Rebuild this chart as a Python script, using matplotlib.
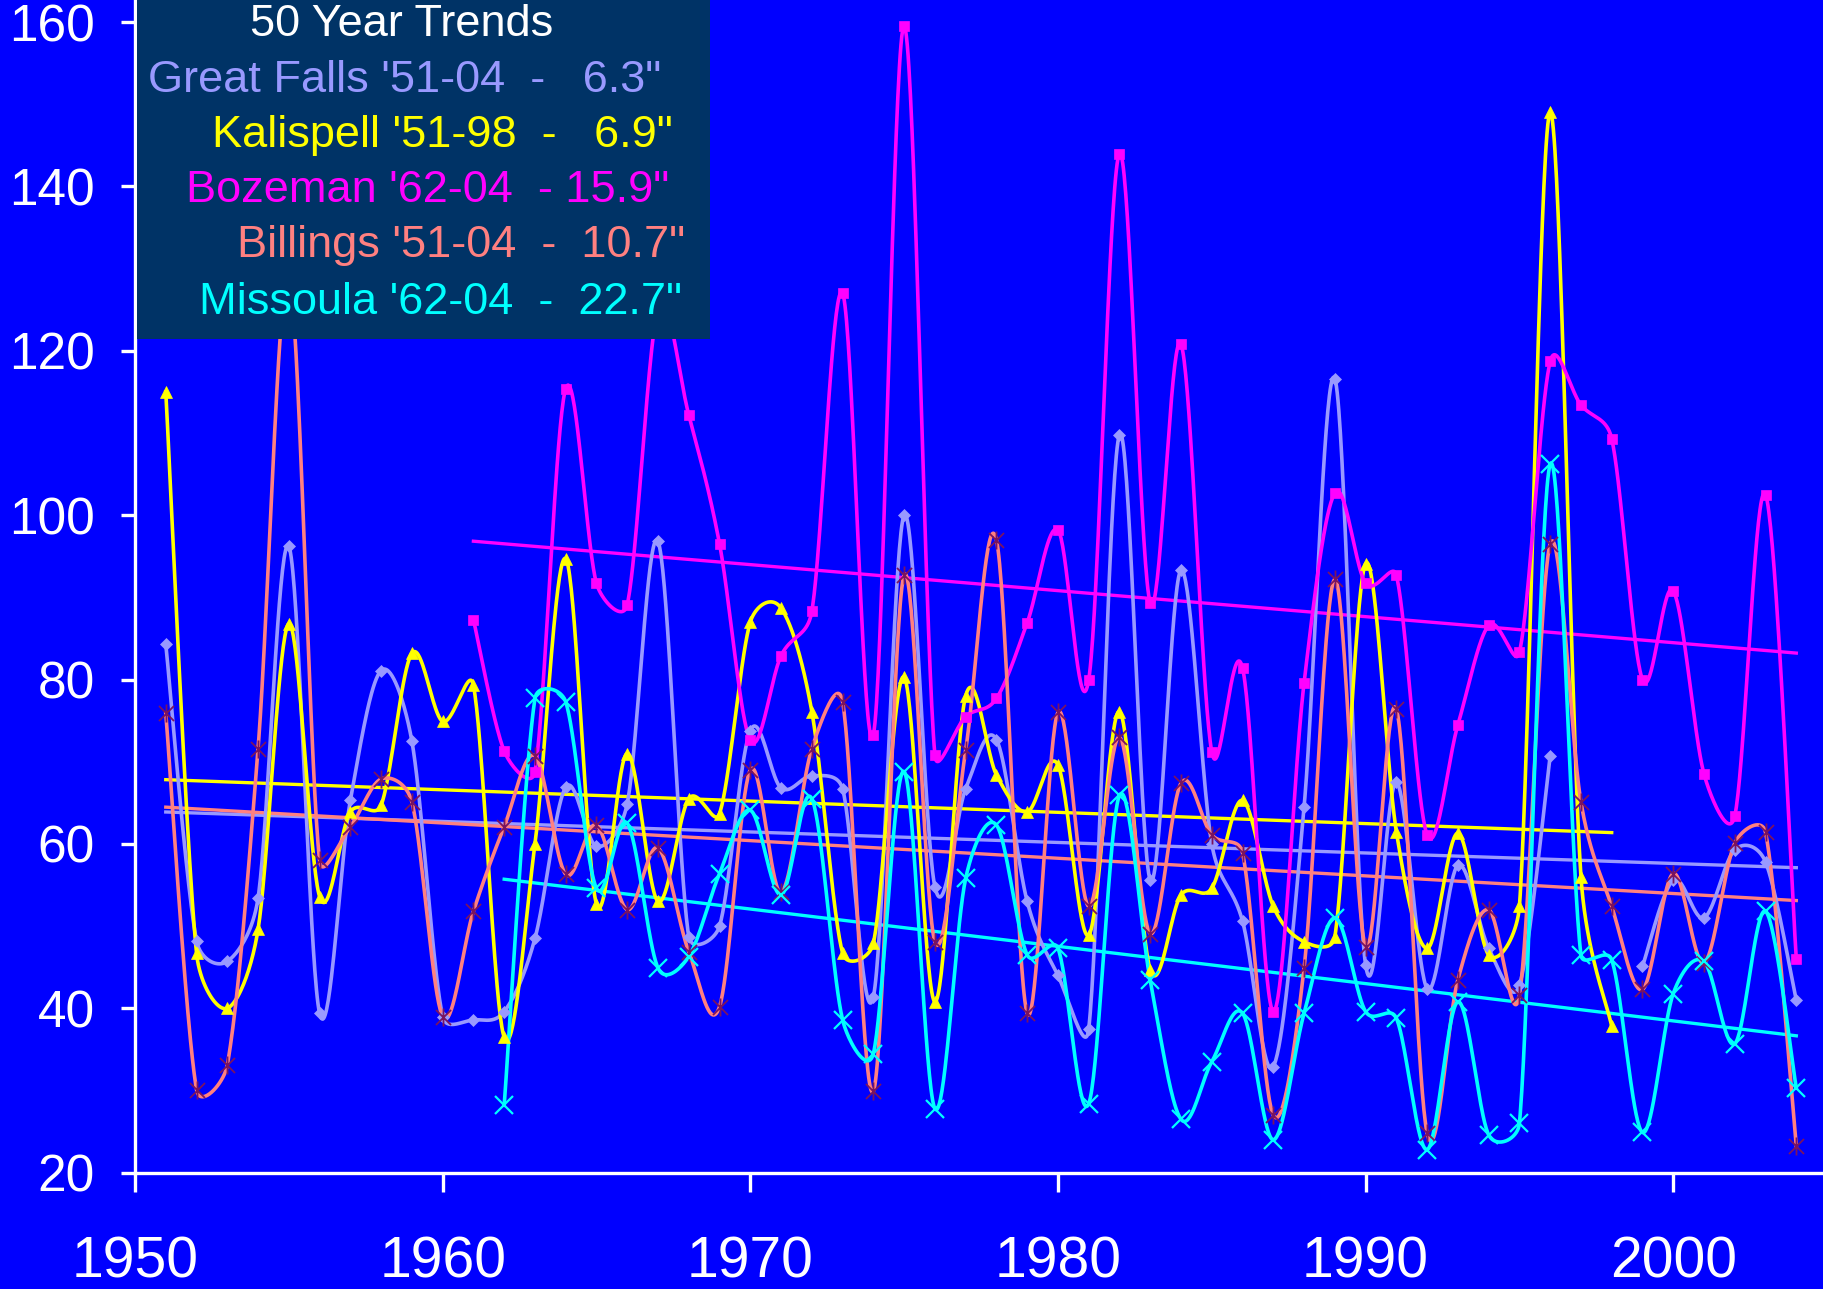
import numpy as np
import matplotlib
matplotlib.use('Agg')
import matplotlib.pyplot as plt
from matplotlib.path import Path

nan = np.nan

# ---------------- data (annual snowfall, inches) ----------------
gf_years = list(range(1951, 2005))
great_falls = [84.3, 48.2, 45.7, 53.4, 96.2, 39.4, 65.3, 81.1, 72.5, 39.0,
               38.6, 39.6, 48.5, 66.9, 59.7, 64.9, 96.8, 48.7, 50.0, 73.8,
               66.8, 68.3, 66.7, 41.4, 100.0, 54.8, 66.7, 72.7, 53.0, 44.0,
               37.5, 109.8, 55.6, 93.3, 60.0, 50.6, 32.9, 64.5, 116.6, 45.3,
               67.5, 42.4, 57.4, 47.3, 42.8, 70.7, nan, nan, 45.1, 55.6,
               51.0, 59.3, 57.8, 41.0]

kal_years = list(range(1951, 1999))
kalispell = [115.0, 46.7, 40.0, 49.6, 86.8, 53.6, 63.9, 64.7, 83.2, 74.9,
             79.3, 36.5, 60.0, 94.7, 52.7, 71.0, 53.0, 65.5, 63.7, 87.0,
             88.7, 76.1, 46.7, 47.9, 80.3, 40.8, 78.0, 68.4, 63.9, 69.6,
             48.9, 76.1, 44.7, 53.8, 54.6, 65.3, 52.4, 48.1, 48.7, 94.1,
             61.5, 47.3, 61.3, 46.5, 52.4, 149.0, 56.0, 37.8]

boz_years = list(range(1961, 2005))
bozeman = [87.3, 71.3, 68.8, 115.4, 91.7, 89.1, 125.0, 112.2, 96.5, 72.6,
           82.9, 88.3, 127.0, 73.3, 159.5, 70.8, 75.5, 77.7, 86.9, 98.2,
           80.0, 144.0, 89.3, 120.8, 71.2, 81.4, 39.6, 79.6, 102.7, 91.7,
           92.7, 61.1, 74.5, 86.6, 83.3, 118.7, 113.4, 109.3, 80.0, 90.8,
           68.5, 63.4, 102.5, 46.0]

bil_years = list(range(1951, 2005))
billings = [75.9, 30.1, 33.1, 71.6, 129.0, 58.0, 62.1, 67.9, 65.1, 39.0,
            51.8, 62.1, 70.7, 56.3, 62.3, 52.0, 59.5, 46.9, 40.2, 69.0,
            54.1, 71.6, 77.3, 29.9, 92.7, 48.1, 71.4, 97.0, 39.4, 76.0,
            52.4, 73.0, 49.1, 67.4, 61.1, 58.9, 27.0, 44.9, 92.2, 47.5,
            76.4, 24.8, 43.5, 52.0, 41.6, 96.5, 65.1, 52.4, 42.3, 56.4,
            45.5, 60.1, 61.4, 23.2]

mis_years = list(range(1962, 2005))
missoula = [28.2, 77.7, 77.3, 54.6, 62.5, 44.9, 46.3, 56.4, 64.1,
            53.8, 65.5, 38.6, 34.5, 68.8, 27.8, 55.8, 62.3, 46.5, 47.3,
            28.4, 65.9, 43.4, 26.5, 33.5, 39.4, 24.0, 39.4, 51.0, 39.6,
            38.8, 22.8, 40.8, 24.6, 26.0, 106.2, 46.5, 45.9, 24.9, 41.8,
            45.7, 35.7, 51.8, 30.3]

legend_title = "50 Year Trends"
legend_lines = ["Great Falls '51-04  -   6.3\"",
                "Kalispell '51-98  -   6.9\"",
                "Bozeman '62-04  - 15.9\"",
                "Billings '51-04  -  10.7\"",
                "Missoula '62-04  -  22.7\""]

x_ticks = [1950, 1960, 1970, 1980, 1990, 2000]
y_ticks = [20, 40, 60, 80, 100, 120, 140, 160]

# screen scale (pixels per year / per inch) used for the smoothing geometry
PX_X, PX_Y = 30.765, 8.219

# ---------------- helpers ----------------
def smooth(xs, ys, n=40):
    """Excel-like smoothed line: Bezier, tangent (P2-P0)/6, limited to half
    of the adjacent segment length (computed in screen space)."""
    xs = np.asarray(xs, float)
    ys = np.asarray(ys, float)
    outx, outy = [], []
    valid = ~np.isnan(ys)
    runs, cur = [], []
    for i in range(len(xs)):
        if valid[i]:
            cur.append(i)
        else:
            if cur:
                runs.append(cur)
            cur = []
    if cur:
        runs.append(cur)
    t = np.linspace(0, 1, n)[:, None]
    sc = np.array([PX_X, PX_Y])
    for run in runs:
        P = np.column_stack([xs[run], ys[run]]) * sc
        k = len(P)
        if k == 1:
            outx += [P[0, 0] / PX_X, nan]; outy += [P[0, 1] / PX_Y, nan]
            continue
        cin = P.copy(); cout = P.copy()
        for i in range(k):
            if i == 0:
                cout[i] = P[i] + (P[i+1] - P[i]) / 6
            elif i == k - 1:
                cin[i] = P[i] - (P[i] - P[i-1]) / 6
            else:
                T = (P[i+1] - P[i-1]) / 6
                L = np.hypot(*T)
                d1 = np.hypot(*(P[i] - P[i-1]))
                d2 = np.hypot(*(P[i+1] - P[i]))
                f1 = min(1.0, 0.5 * d1 / L) if L > 0 else 0
                f2 = min(1.0, 0.5 * d2 / L) if L > 0 else 0
                cin[i] = P[i] - T * f1
                cout[i] = P[i] + T * f2
        for i in range(k - 1):
            b = ((1 - t)**3 * P[i] + 3 * (1 - t)**2 * t * cout[i]
                 + 3 * (1 - t) * t**2 * cin[i+1] + t**3 * P[i+1])
            outx += list(b[:, 0] / PX_X); outy += list(b[:, 1] / PX_Y)
        outx.append(nan); outy.append(nan)
    return np.array(outx), np.array(outy)

star = Path([(-1, -1), (1, 1), (-1, 1), (1, -1), (0, -1.2), (0, 1.2)],
            [Path.MOVETO, Path.LINETO, Path.MOVETO, Path.LINETO, Path.MOVETO, Path.LINETO])

BG = '#0000FF'
series = [
    (gf_years, great_falls, '#9999FF', dict(marker='D', ms=6.5, mfc='#9999FF', mec='#9999FF', mew=0.5)),
    (kal_years, kalispell, '#FFFF00', dict(marker='^', ms=9, mfc='#FFFF00', mec='#FFFF00', mew=0.5)),
    (boz_years, bozeman, '#FF00FF', dict(marker='s', ms=7, mfc='#FF00FF', mec='#FF00FF', mew=0.5)),
    (bil_years, billings, '#FF8080', dict(marker=star, ms=13, mfc='none', mec='#7A1460', mew=1.3)),
    (mis_years, missoula, '#00FFFF', dict(marker='x', ms=13, mfc='none', mec='#00FFFF', mew=1.6)),
]

plt.rcParams['font.family'] = ['Liberation Sans', 'DejaVu Sans']

W, H = 1823, 1289
fig = plt.figure(figsize=(W/100, H/100), dpi=100, facecolor=BG)
ax = fig.add_axes([135/W, 1 - 1172.7/H, 1 - 135/W, 1172.7/H])
ax.set_facecolor(BG)

for yrs, vals, col, mk in series:
    sx, sy = smooth(yrs, vals)
    ax.plot(sx, sy, color=col, lw=2.6, solid_joinstyle='round', zorder=3)
    ax.plot(yrs, vals, linestyle='none', zorder=4, **mk)
    yv = np.asarray(vals, float)
    ok = ~np.isnan(yv)
    xv = np.asarray(yrs, float)[ok]
    coef = np.polyfit(xv, yv[ok], 1)
    tx = np.array([xv.min(), xv.max()])
    ax.plot(tx, np.polyval(coef, tx), color=col, lw=2.4, zorder=2)

ax.set_xlim(1950, 1950 + (W - 135) / PX_X)
ax.set_ylim(20, 160 + 22 / PX_Y)
ax.set_xticks(x_ticks)
ax.set_yticks(y_ticks)
ax.set_xticklabels([str(v) for v in x_ticks])
ax.set_yticklabels([str(v) for v in y_ticks])
for s in ['top', 'right']:
    ax.spines[s].set_visible(False)
for s in ['left', 'bottom']:
    ax.spines[s].set_color('white')
    ax.spines[s].set_linewidth(2.4)
ax.tick_params(axis='x', colors='white', labelsize=41, length=13.5, width=2.4,
               direction='out', pad=32)
ax.tick_params(axis='y', colors='white', labelsize=37, length=10, width=2.4,
               direction='out', pad=19)

# legend box
lx0, lx1, ly1 = 137, 710, 339
lax = fig.add_axes([lx0/W, 1 - ly1/H, (lx1 - lx0)/W, ly1/H])
lax.set_facecolor('#003366')
lax.set_xticks([]); lax.set_yticks([])
for s in lax.spines.values():
    s.set_visible(False)
lax.set_xlim(0, 1); lax.set_ylim(0, 1)

def lx(px):
    return (px - lx0) / (lx1 - lx0)

def ly(py):
    return 1 - py / ly1

lax.text(lx(402), ly(25), legend_title, color='white', fontsize=32.5,
         ha='center', va='center')
lefts = [147.6, 211.6, 186.0, 237.0, 198.8]
ys_ = [81.0, 136.0, 190.5, 246.0, 302.0]
cols = ['#9999FF', '#FFFF00', '#FF00FF', '#FF8080', '#00FFFF']
for txt, xl, yl, c in zip(legend_lines, lefts, ys_, cols):
    lax.text(lx(xl), ly(yl), txt, color=c, fontsize=32.5, ha='left', va='center')

fig.savefig('out.png', dpi=100, facecolor=BG)
